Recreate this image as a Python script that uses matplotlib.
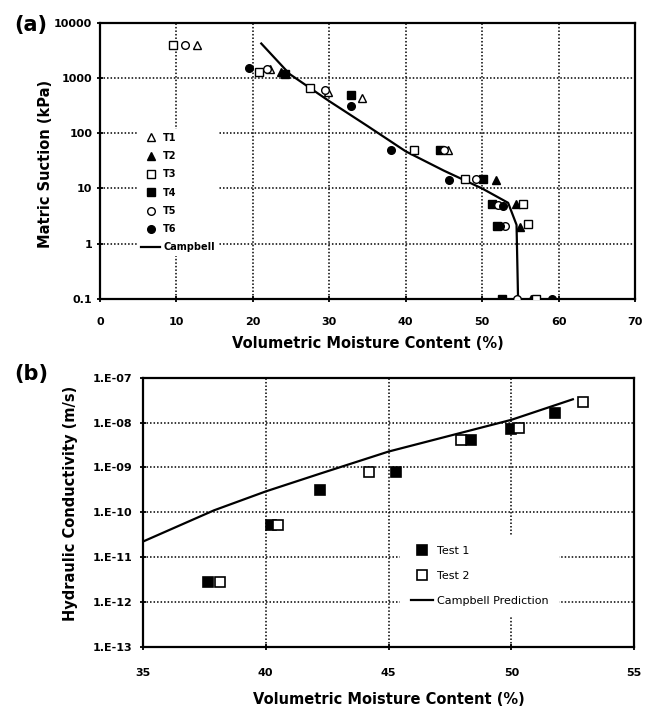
import matplotlib
matplotlib.use("Agg")
import matplotlib.pyplot as plt
from matplotlib.ticker import FixedLocator, FixedFormatter, NullLocator

plt.rcParams['font.family'] = ['DejaVu Sans']
plt.rcParams['font.weight'] = 'bold'

# ---- (a) soil-water characteristic: moisture content (%) vs matric suction (kPa)
t1_x = [12.7, 22.2, 29.8, 34.3, 45.5]
t1_y = [4000, 1450, 560, 440, 50]
t2_x = [23.7, 51.8, 54.4, 54.9, 56.4]
t2_y = [1300, 14, 5.3, 2.0, 0.1]
t3_x = [9.6, 20.8, 27.5, 41.1, 47.8, 55.3, 56.0, 57.1]
t3_y = [4000, 1300, 650, 50, 15, 5.3, 2.3, 0.1]
t4_x = [24.2, 32.9, 44.5, 50.1, 51.3, 51.9, 52.6]
t4_y = [1200, 500, 50, 15, 5.2, 2.1, 0.1]
t5_x = [11.1, 21.8, 29.4, 45.0, 49.2, 52.1, 53.0, 54.5]
t5_y = [4000, 1450, 600, 50, 15, 5.0, 2.1, 0.1]
t6_x = [19.5, 32.9, 38.1, 45.7, 52.7, 52.4, 59.1]
t6_y = [1500, 310, 50, 14, 4.8, 2.1, 0.1]
campbell_a_x = [21.1, 24.8, 30.0, 35.0, 40.0, 45.0, 50.0, 53.4, 54.5, 54.7]
campbell_a_y = [4200, 1180, 380, 135, 47, 21, 10, 5.5, 2.2, 0.1]

a_xticks = [0, 10, 20, 30, 40, 50, 60, 70]
a_yticks = [0.1, 1, 10, 100, 1000, 10000]
a_ylabels = ['0.1', '1', '10', '100', '1000', '10000']

# ---- (b) hydraulic conductivity (m/s) vs moisture content (%)
test1_x = [37.66, 40.23, 42.22, 45.29, 48.36, 49.99, 51.77]
test1_y = [2.8e-12, 5.2e-11, 3.2e-10, 8.0e-10, 4.1e-9, 7.1e-9, 1.65e-8]
test2_x = [38.13, 40.50, 44.21, 47.93, 50.29, 52.92]
test2_y = [2.8e-12, 5.2e-11, 8.0e-10, 4.1e-9, 7.4e-9, 2.9e-8]
campbell_b_x = [35.0, 37.9, 40.0, 42.2, 45.0, 50.0, 52.5]
campbell_b_y = [2.2e-11, 1.1e-10, 2.9e-10, 7.2e-10, 2.25e-9, 1.15e-8, 3.3e-8]

b_xticks = [35, 40, 45, 50, 55]
b_yticks = [1e-13, 1e-12, 1e-11, 1e-10, 1e-9, 1e-8, 1e-7]
b_ylabels = ['1.E-13', '1.E-12', '1.E-11', '1.E-10', '1.E-09', '1.E-08', '1.E-07']

W, H = 653, 715
fig = plt.figure(figsize=(W / 100, H / 100), dpi=100)

grid_kw = dict(color='black', linestyle=(0, (1, 1.3)), linewidth=1.1)


def px_axes(left, top, right, bottom):
    return fig.add_axes([left / W, 1 - bottom / H, (right - left) / W, (bottom - top) / H])


def style_axes(ax, tick_size, xpad, ypad):
    for s in ax.spines.values():
        s.set_linewidth(1.6)
        s.set_color('black')
    ax.tick_params(which='major', direction='inout', length=5, width=1.3,
                   labelsize=tick_size, color='black')
    ax.tick_params(axis='x', pad=xpad)
    ax.tick_params(axis='y', pad=ypad)
    ax.yaxis.set_minor_locator(NullLocator())
    ax.xaxis.set_minor_locator(NullLocator())
    ax.grid(True, which='major', **grid_kw)
    ax.set_axisbelow(True)
    for lab in ax.get_xticklabels() + ax.get_yticklabels():
        lab.set_fontweight('bold')


# ---------------- panel (a)
axa = px_axes(100, 22.7, 635, 299)
axa.set_yscale('log')
axa.set_xlim(0, 70)
axa.set_ylim(0.1, 10000)
axa.xaxis.set_major_locator(FixedLocator(a_xticks))
axa.yaxis.set_major_locator(FixedLocator(a_yticks))
axa.yaxis.set_major_formatter(FixedFormatter(a_ylabels))

ms_a = 5.5
mew = 1.0
axa.plot(t1_x, t1_y, ls='none', marker='^', ms=ms_a, mfc='white', mec='black', mew=mew, label='T1', zorder=3)
axa.plot(t2_x, t2_y, ls='none', marker='^', ms=ms_a, mfc='black', mec='black', mew=mew, label='T2', zorder=3)
axa.plot(t3_x, t3_y, ls='none', marker='s', ms=ms_a, mfc='white', mec='black', mew=mew, label='T3', zorder=3)
axa.plot(t4_x, t4_y, ls='none', marker='s', ms=ms_a, mfc='black', mec='black', mew=mew, label='T4', zorder=3)
axa.plot(t5_x, t5_y, ls='none', marker='o', ms=ms_a, mfc='white', mec='black', mew=mew, label='T5', zorder=3)
axa.plot(t6_x, t6_y, ls='none', marker='o', ms=ms_a, mfc='black', mec='black', mew=mew, label='T6', zorder=3)
axa.plot(campbell_a_x, campbell_a_y, color='black', lw=1.6, label='Campbell', zorder=2)

style_axes(axa, 8, 10.5, 3.0)

lega = axa.legend(loc='upper left', bbox_to_anchor=((137 - 100) / 535, (299 - 129) / 276.3),
                  borderaxespad=0, frameon=True, fancybox=False, edgecolor='white',
                  facecolor='white', framealpha=1, prop=dict(size=7, weight='bold'),
                  handlelength=2.0, handletextpad=0.3, labelspacing=0.85, borderpad=0.4)
lega.get_frame().set_linewidth(0)

fig.text(31 / W, 1 - 25 / H, '(a)', ha='center', va='center', fontsize=15, fontweight='bold')
fig.text(367.5 / W, 1 - 343 / H, 'Volumetric Moisture Content (%)', ha='center', va='center',
         fontsize=10.5, fontweight='bold')
fig.text(46 / W, 1 - 163.5 / H, 'Matric Suction (kPa)', ha='center', va='center',
         rotation=90, fontsize=10.5, fontweight='bold')

# ---------------- panel (b)
axb = px_axes(142.7, 377.7, 634.3, 646.7)
axb.set_yscale('log')
axb.set_xlim(35, 55)
axb.set_ylim(1e-13, 1e-7)
axb.xaxis.set_major_locator(FixedLocator(b_xticks))
axb.yaxis.set_major_locator(FixedLocator(b_yticks))
axb.yaxis.set_major_formatter(FixedFormatter(b_ylabels))

ms_b = 7
axb.plot(test1_x, test1_y, ls='none', marker='s', ms=ms_b, mfc='black', mec='black', mew=1.2, label='Test 1', zorder=3)
axb.plot(test2_x, test2_y, ls='none', marker='s', ms=ms_b, mfc='white', mec='black', mew=1.2, label='Test 2', zorder=3)
axb.plot(campbell_b_x, campbell_b_y, color='black', lw=1.6, label='Campbell Prediction', zorder=2)

style_axes(axb, 8, 12.5, 5.0)

legb = axb.legend(loc='upper left', bbox_to_anchor=((400 - 142.7) / 491.6, (646.7 - 535) / 269),
                  borderaxespad=0, frameon=True, fancybox=False, edgecolor='white',
                  facecolor='white', framealpha=1, prop=dict(size=8, weight='normal'),
                  handlelength=2.0, handletextpad=0.3, labelspacing=1.35, borderpad=1.0)
legb.get_frame().set_linewidth(0)

fig.text(31 / W, 1 - 374 / H, '(b)', ha='center', va='center', fontsize=15, fontweight='bold')
fig.text(388.5 / W, 1 - 700 / H, 'Volumetric Moisture Content (%)', ha='center', va='center',
         fontsize=10.5, fontweight='bold')
fig.text(70 / W, 1 - 503 / H, 'Hydraulic Conductivity (m/s)', ha='center', va='center',
         rotation=90, fontsize=10.5, fontweight='bold')

fig.savefig('out.png', dpi=100, facecolor='white')
